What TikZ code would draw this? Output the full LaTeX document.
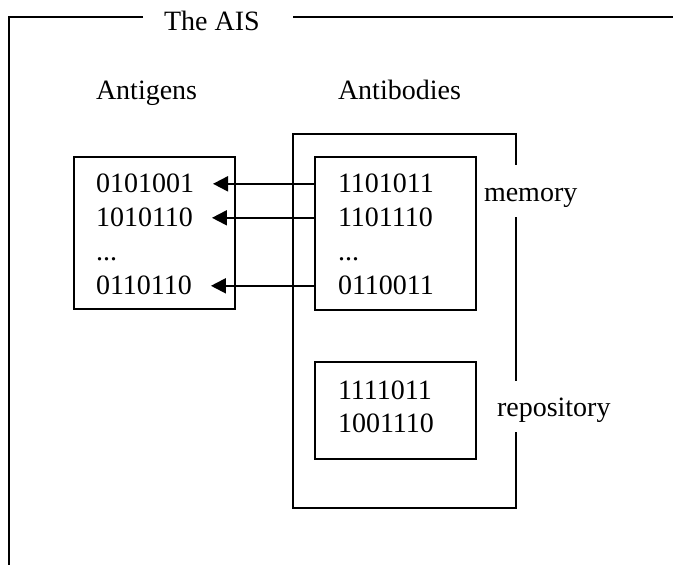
\documentclass[tikz,border=0pt]{standalone}
\usepackage{fontspec}
\setmainfont{Liberation Serif}
\usepackage{tikz}
\usetikzlibrary{positioning}
\usetikzlibrary{arrows.meta}
\usetikzlibrary{calc}

\begin{document}
\begin{tikzpicture}[
            x = 0.5pt, y = -0.5pt, % pixel grid
            > = {Triangle[length=7.5pt,width=7.5pt]}, % arrow head style
            line width = 1pt,
            font = \fontsize{14pt}{17pt}\selectfont
        ]

        \tikzset{
            box/.style = {draw, inner sep = 0pt, minimum width = 80.5pt},
            bits/.style = {anchor = base west, inner sep = 0pt}
        }

        \useasboundingbox (0,0) rectangle (673,565);

        % outer frame
        \node[bits] (title) at (163,31) {The AIS};
        \draw (143,17) -- (9,17) -- (9,566);
        \draw (293,17) -- (674,17);

        % headings
        \node[bits] (AG) at (95,100) {Antigens};
        \node[bits] (AB) at (337,100) {Antibodies};

        % antigens
        \node[box, minimum height = 76pt] (G) at (154.5,233) {};
        \node[bits] (g1) at (95,193) {0101001};
        \node[bits] (g2) at (95,227) {1010110};
        \node[bits] (g3) at (95,261) {...};
        \node[bits] (g4) at (95,295) {0110110};

        % antibodies
        \draw (516,165) -- (516,134) -- (293,134) -- (293,508) -- (516,508) -- (516,432);
        \draw (516,381) -- (516,217);

        \node[box, minimum height = 76.5pt] (M) at (395.5,233.5) {};
        \node[bits] (m1) at (337,193) {1101011};
        \node[bits] (m2) at (337,227) {1101110};
        \node[bits] (m3) at (337,261) {...};
        \node[bits] (m4) at (337,295) {0110011};
        \node[bits] (mem) at (483,202) {memory};

        \node[box, minimum height = 48.5pt] (R) at (395.5,410.5) {};
        \node[bits] (r1) at (337,400) {1111011};
        \node[bits] (r2) at (337,433) {1001110};
        \node[bits] (rep) at (496,417) {repository};

        % matching
        \draw[->] (m1 -| M.west) -- ([xshift=9pt]g1.east);
        \draw[->] (m2 -| M.west) -- ([xshift=9pt]g2.east);
        \draw[->] (m4 -| M.west) -- ([xshift=9pt]g4.east);

\end{tikzpicture}
\end{document}
